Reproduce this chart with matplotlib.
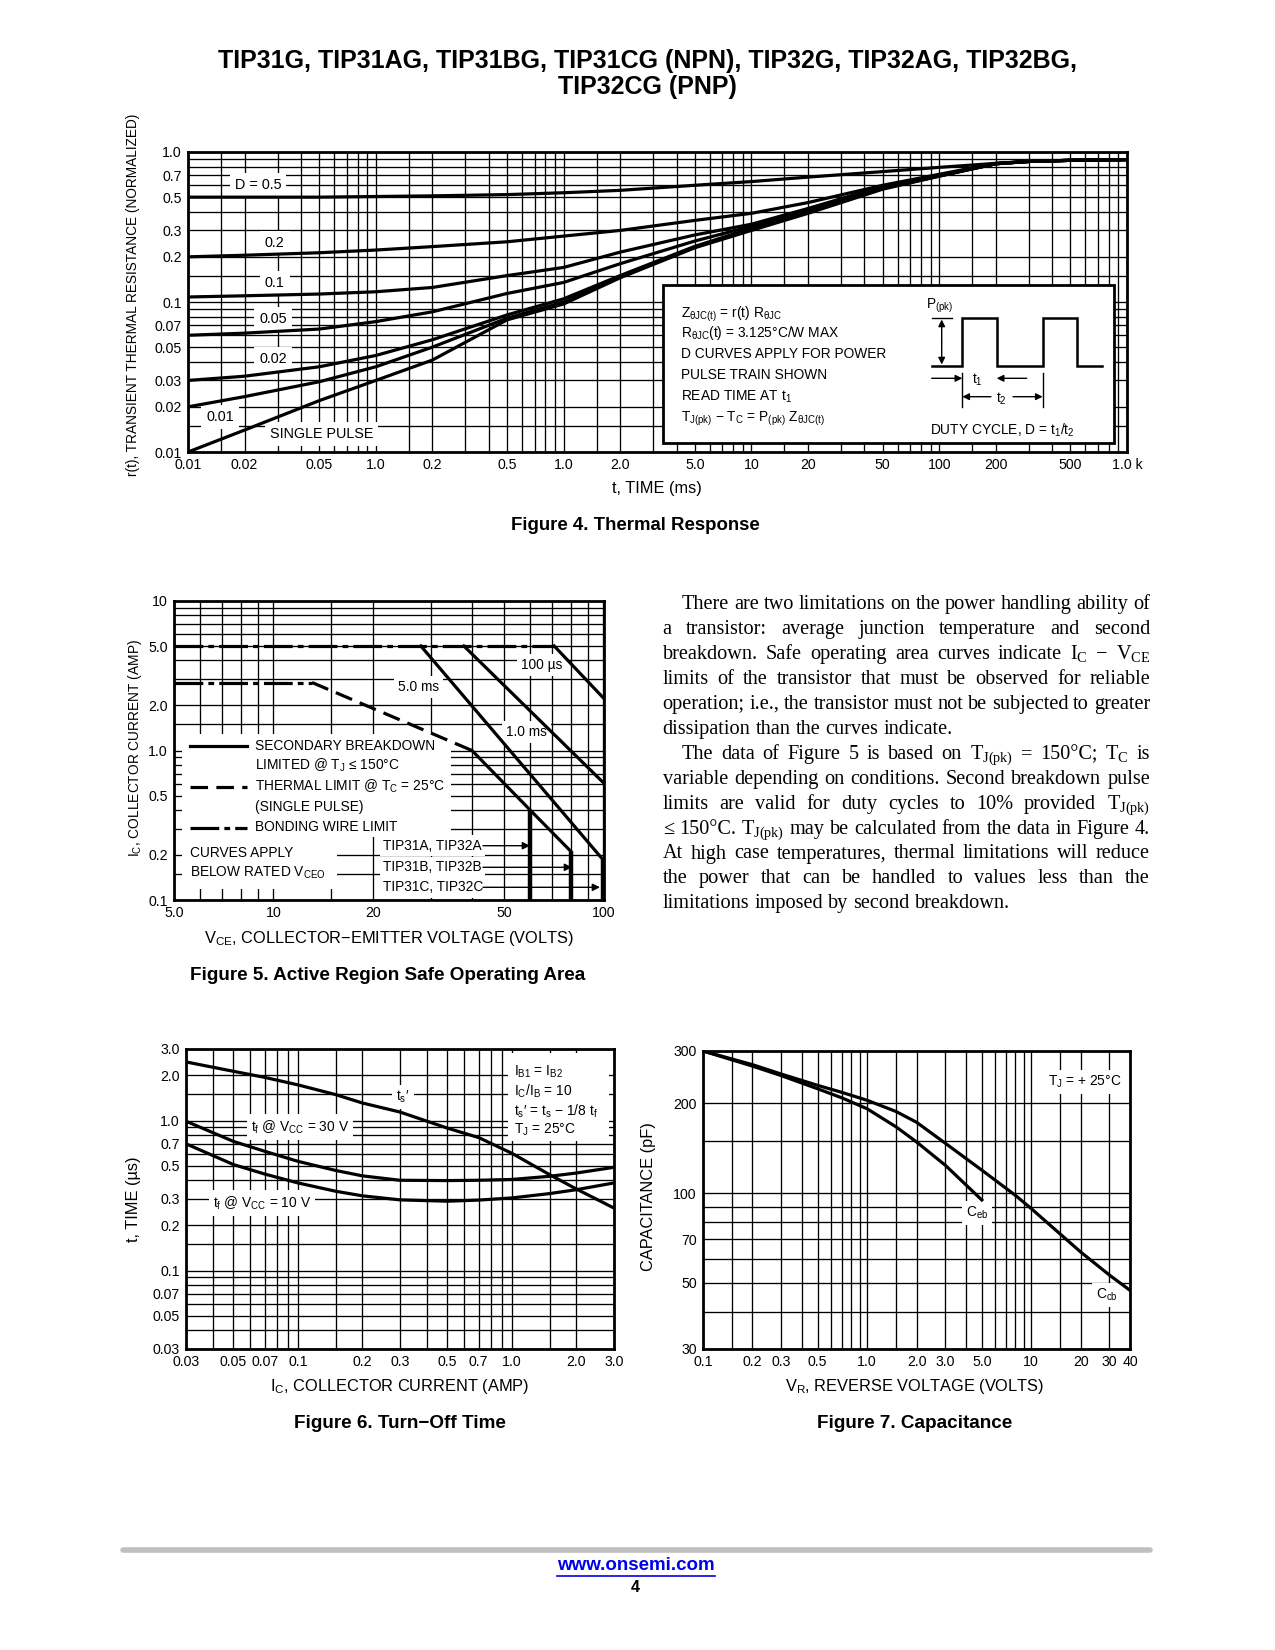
import numpy as np
import matplotlib
matplotlib.use('Agg')
import matplotlib.pyplot as plt
from matplotlib import font_manager as fm
from matplotlib.transforms import Affine2D
from matplotlib.patches import Rectangle
from matplotlib.lines import Line2D
from matplotlib.ticker import NullLocator, NullFormatter

_names = {f.name for f in fm.fontManager.ttflist}
NARROW = 'Liberation Sans Narrow' if 'Liberation Sans Narrow' in _names else 'Liberation Sans'
SANS = [NARROW, 'DejaVu Sans']
SERIF = ['Liberation Serif', 'DejaVu Serif']
plt.rcParams['font.family'] = SANS
plt.rcParams['mathtext.default'] = 'regular'

# ---------------- Figure 4: thermal response ----------------
t_ms = [0.01, 0.02, 0.05, 0.1, 0.2, 0.5, 1, 2, 5, 10, 20, 50, 100, 200, 300, 500, 1000]
r_d05 = [0.50, 0.50, 0.50, 0.505, 0.51, 0.52, 0.535, 0.555, 0.60, 0.635, 0.68, 0.74, 0.79, 0.84, 0.865, 0.88, 0.89]
r_d02 = [0.20, 0.205, 0.213, 0.222, 0.234, 0.252, 0.275, 0.30, 0.35, 0.39, 0.46, 0.60, 0.71, 0.84, 0.865, 0.88, 0.89]
r_d01 = [0.108, 0.110, 0.113, 0.117, 0.125, 0.15, 0.17, 0.215, 0.28, 0.33, 0.42, 0.59, 0.70, 0.835, 0.865, 0.88, 0.89]
r_d005 = [0.06, 0.062, 0.066, 0.074, 0.086, 0.114, 0.135, 0.18, 0.255, 0.32, 0.41, 0.585, 0.70, 0.835, 0.865, 0.88, 0.89]
r_d002 = [0.03, 0.032, 0.037, 0.044, 0.056, 0.082, 0.105, 0.15, 0.235, 0.31, 0.40, 0.575, 0.695, 0.835, 0.865, 0.88, 0.89]
r_d001 = [0.02, 0.0234, 0.0294, 0.037, 0.05, 0.078, 0.10, 0.147, 0.232, 0.305, 0.395, 0.57, 0.69, 0.835, 0.865, 0.88, 0.89]
r_single = [0.01, 0.014, 0.022, 0.030, 0.041, 0.076, 0.097, 0.145, 0.23, 0.30, 0.39, 0.565, 0.69, 0.835, 0.865, 0.88, 0.89]
f4_xticks = [0.01, 0.02, 0.05, 0.1, 0.2, 0.5, 1, 2, 5, 10, 20, 50, 100, 200, 500, 1000]
f4_xlabels = ['0.01', '0.02', '0.05', '1.0', '0.2', '0.5', '1.0', '2.0', '5.0', '10', '20', '50', '100', '200', '500', '1.0 k']
f4_yticks = [1.0, 0.7, 0.5, 0.3, 0.2, 0.1, 0.07, 0.05, 0.03, 0.02, 0.01]
f4_ylabels = ['1.0', '0.7', '0.5', '0.3', '0.2', '0.1', '0.07', '0.05', '0.03', '0.02', '0.01']

# ---------------- Figure 5: safe operating area ----------------
bond_v = [5.0, 71.0]
bond_i = [5.0, 5.0]
bond_low_v = [5.0, 13.1]
bond_low_i = [2.85, 2.85]
therm_v = [13.1, 40.0]
therm_i = [2.85, 1.0]
dc_v = [40.0, 60.0, 80.0]
dc_i = [1.0, 0.40, 0.21]
ms5_v = [28.0, 100.0]
ms5_i = [5.0, 0.185]
ms1_v = [37.8, 100.0]
ms1_i = [5.0, 0.61]
us100_v = [71.0, 100.0]
us100_i = [5.0, 2.25]
vceo_v = [60.0, 80.0, 100.0]
vceo_top = [0.40, 0.21, 0.185]
f5_xticks = [5, 10, 20, 50, 100]
f5_xlabels = ['5.0', '10', '20', '50', '100']
f5_yticks = [10, 5, 2, 1, 0.5, 0.2, 0.1]
f5_ylabels = ['10', '5.0', '2.0', '1.0', '0.5', '0.2', '0.1']

# ---------------- Figure 6: turn-off time ----------------
ic_amp = [0.03, 0.05, 0.07, 0.1, 0.15, 0.2, 0.3, 0.5, 0.7, 1.0, 1.5, 2.0, 3.0]
ts_prime = [2.46, 2.13, 1.94, 1.73, 1.49, 1.31, 1.14, 0.89, 0.77, 0.605, 0.436, 0.35, 0.261]
tf_30v = [0.99, 0.726, 0.624, 0.535, 0.465, 0.428, 0.40, 0.398, 0.40, 0.405, 0.425, 0.447, 0.488]
tf_10v = [0.70, 0.509, 0.44, 0.384, 0.338, 0.315, 0.296, 0.29, 0.295, 0.305, 0.326, 0.346, 0.384]
f6_xticks = [0.03, 0.05, 0.07, 0.1, 0.2, 0.3, 0.5, 0.7, 1.0, 2.0, 3.0]
f6_xlabels = ['0.03', '0.05', '0.07', '0.1', '0.2', '0.3', '0.5', '0.7', '1.0', '2.0', '3.0']
f6_yticks = [3.0, 2.0, 1.0, 0.7, 0.5, 0.3, 0.2, 0.1, 0.07, 0.05, 0.03]
f6_ylabels = ['3.0', '2.0', '1.0', '0.7', '0.5', '0.3', '0.2', '0.1', '0.07', '0.05', '0.03']

# ---------------- Figure 7: capacitance ----------------
vr_cb = [0.1, 0.2, 0.3, 0.5, 0.7, 1.0, 1.5, 2.0, 3.0, 5.0, 8.0, 10, 20, 30, 40]
c_cb = [300, 270, 251, 230, 218, 205, 188, 173, 147, 119.5, 98.4, 88.8, 63.5, 53.1, 47.2]
vr_eb = [0.1, 0.2, 0.3, 0.5, 0.7, 1.0, 1.5, 2.0, 3.0, 5.0]
c_eb = [300, 267, 248, 224, 209, 192, 167, 148.6, 124, 94.9]
f7_xticks = [0.1, 0.2, 0.3, 0.5, 1.0, 2.0, 3.0, 5.0, 10, 20, 30, 40]
f7_xlabels = ['0.1', '0.2', '0.3', '0.5', '1.0', '2.0', '3.0', '5.0', '10', '20', '30', '40']
f7_yticks = [300, 200, 100, 70, 50, 30]
f7_ylabels = ['300', '200', '100', '70', '50', '30']

para_lines = [
    (True, True, "There are two limitations on the power handling ability of"),
    (False, True, "a transistor: average junction temperature and second"),
    (False, True, "breakdown. Safe operating area curves indicate I$_C$ \u2212 V$_{CE}$"),
    (False, True, "limits of the transistor that must be observed for reliable"),
    (False, True, "operation; i.e., the transistor must not be subjected to greater"),
    (False, False, "dissipation than the curves indicate."),
    (True, True, "The data of Figure 5 is based on T$_{J(pk)}$ = 150\u00b0C; T$_C$ is"),
    (False, True, "variable depending on conditions. Second breakdown pulse"),
    (False, True, "limits are valid for duty cycles to 10% provided T$_{J(pk)}$"),
    (False, True, "\u2264 150\u00b0C. T$_{J(pk)}$ may be calculated from the data in Figure 4."),
    (False, True, "At high case temperatures, thermal limitations will reduce"),
    (False, True, "the power that can be handled to values less than the"),
    (False, False, "limitations imposed by second breakdown."),
]

# ---------------- layout helpers ----------------
W, H = 1275, 1650
fig = plt.figure(figsize=(W / 100, H / 100), dpi=100)
fig.patch.set_facecolor('white')
PIX = Affine2D().scale(1.0 / W, -1.0 / H).translate(0, 1) + fig.transFigure
renderer = fig.canvas.get_renderer()


def _width(s, size, **kw):
    t = fig.text(0, 0, s, fontsize=size, family=SANS, **kw)
    w = t.get_window_extent(renderer=renderer).width
    t.remove()
    return w


# font sizes adjusted so text widths match the condensed face of the original
ANN = 11.5 * 180.0 / _width('SECONDARY BREAKDOWN', 11.5)
TICK = 10.0 * 27.5 / _width('0.05', 10.0)

MULTS = [1, 1.5, 2, 3, 4, 5, 6, 7, 8, 9]
GRID_LW = 0.95
CURVE_LW = 2.3


def make_ax(x0, y0, x1, y1):
    return fig.add_axes([x0 / W, 1 - y1 / H, (x1 - x0) / W, (y1 - y0) / H])


def grid_vals(lo, hi):
    out = []
    for e in range(int(np.floor(np.log10(lo))) - 1, int(np.ceil(np.log10(hi))) + 1):
        for m in MULTS:
            v = m * 10.0 ** e
            if lo * 0.999 <= v <= hi * 1.001:
                out.append(v)
    return out


def setup(ax, xlim, ylim, xt, xl, yt, yl):
    ax.set_xscale('log')
    ax.set_yscale('log')
    ax.set_xlim(*xlim)
    ax.set_ylim(*ylim)
    for v in grid_vals(*xlim):
        ax.axvline(v, color='k', lw=GRID_LW, zorder=1)
    for v in grid_vals(*ylim):
        ax.axhline(v, color='k', lw=GRID_LW, zorder=1)
    ax.set_xticks(xt)
    ax.set_xticklabels(xl)
    ax.set_yticks(yt)
    ax.set_yticklabels(yl)
    for a in (ax.xaxis, ax.yaxis):
        a.set_minor_locator(NullLocator())
        a.set_minor_formatter(NullFormatter())
    ax.tick_params(length=0, pad=4.5, labelsize=TICK)
    for s in ax.spines.values():
        s.set_linewidth(2.0)
        s.set_zorder(5)
    ax.set_facecolor('white')


def ptext(x, y, s, size=None, ha='left', va='center', target=None, **kw):
    tgt = target if target is not None else fig
    kw.setdefault('family', SANS)
    return tgt.text(x, y, s, transform=PIX, fontsize=size if size else ANN, ha=ha, va=va, **kw)


def fit(t, target, rotated=False):
    bb = t.get_window_extent(renderer=renderer)
    cur = bb.height if rotated else bb.width
    if cur > 0:
        t.set_fontsize(t.get_fontsize() * target / cur)


def pline(xs, ys, target=None, **kw):
    kw.setdefault('color', 'k')
    ln = Line2D(xs, ys, transform=PIX, **kw)
    ln.set_clip_on(False)
    if target is None:
        fig.add_artist(ln)
    else:
        target.add_line(ln)
    return ln


def parrow(x0, y0, x1, y1, target, style='-|>', ms=11, lw=1.0, z=7):
    target.annotate('', xy=(x1, y1), xytext=(x0, y0), xycoords=PIX, textcoords=PIX,
                    arrowprops=dict(arrowstyle=style, color='k', lw=lw, mutation_scale=ms,
                                    shrinkA=0, shrinkB=0), zorder=z, annotation_clip=False)


WHITE = dict(facecolor='white', edgecolor='none', pad=2.5)

# ---------------- title ----------------
t1 = ptext(647, 61, 'TIP31G, TIP31AG, TIP31BG, TIP31CG (NPN), TIP32G, TIP32AG, TIP32BG,', size=20,
           ha='center', weight='bold')
fit(t1, 862)
t2 = ptext(647, 87, 'TIP32CG (PNP)', size=t1.get_fontsize(), ha='center', weight='bold')

# ---------------- Figure 4 ----------------
ax4 = make_ax(188, 152, 1127, 452)
setup(ax4, (0.01, 1000), (0.01, 1.0), f4_xticks, f4_xlabels, f4_yticks, f4_ylabels)
for r in (r_d05, r_d02, r_d01, r_d005, r_d002, r_d001, r_single):
    ax4.plot(t_ms, r, color='k', lw=CURVE_LW, zorder=3, solid_capstyle='round')
for (xv, yv, s) in [(0.0236, 0.60, 'D = 0.5'), (0.029, 0.248, '0.2'), (0.029, 0.134, '0.1'),
                    (0.0284, 0.077, '0.05'), (0.0284, 0.0417, '0.02'), (0.0148, 0.0172, '0.01'),
                    (0.0515, 0.0132, 'SINGLE PULSE')]:
    ax4.text(xv, yv, s, ha='center', va='center', fontsize=ANN * 1.05, zorder=2,
             bbox=dict(facecolor='white', edgecolor='none', pad=3.5))

box = Rectangle((663, 285), 451, 158, transform=PIX, facecolor='white', edgecolor='k', lw=2.0,
                zorder=6, clip_on=False)
ax4.add_patch(box)
box_lines = [
    (314.6, r'Z$_{\theta JC(t)}$ = r(t) R$_{\theta JC}$'),
    (333.5, r'R$_{\theta JC}$(t) = 3.125$\degree$C/W MAX'),
    (354.5, 'D CURVES APPLY FOR POWER'),
    (374.6, 'PULSE TRAIN SHOWN'),
    (396.6, 'READ TIME AT t$_1$'),
    (418.7, 'T$_{J(pk)}$ \u2212 T$_C$ = P$_{(pk)}$ Z$_{\\theta JC(t)}$'),
]
for (yy, s) in box_lines:
    ptext(681, yy, s, target=ax4, zorder=7)
pline([931.7, 962.3, 962.3, 996.7, 996.7, 1042.7, 1042.7, 1076.7, 1076.7, 1101.7],
      [365.7, 365.7, 318.3, 318.3, 365.7, 365.7, 318.3, 318.3, 365.7, 365.7],
      target=ax4, lw=1.8, zorder=7, solid_joinstyle='miter')
pline([931.7, 952], [318.3, 318.3], target=ax4, lw=1.0, zorder=7)
parrow(941.7, 342, 941.7, 319.5, ax4, ms=10)
parrow(941.7, 342, 941.7, 364.5, ax4, ms=10)
ptext(940, 306, 'P$_{(pk)}$', ha='center', target=ax4, zorder=7)
parrow(931.7, 378.3, 962.3, 378.3, ax4, ms=10)
parrow(1026.7, 378.3, 996.7, 378.3, ax4, ms=10)
ptext(977, 380, 't$_1$', ha='center', target=ax4, zorder=7)
pline([962.3, 962.3], [373, 407], target=ax4, lw=1.0, zorder=7)
pline([1042.7, 1042.7], [373, 407], target=ax4, lw=1.0, zorder=7)
parrow(991, 396.7, 962.3, 396.7, ax4, ms=10)
parrow(1013, 396.7, 1042.7, 396.7, ax4, ms=10)
ptext(1001.7, 398.5, 't$_2$', ha='center', target=ax4, zorder=7)
ptext(930, 430, 'DUTY CYCLE, D = t$_1$/t$_2$', target=ax4, zorder=7)

yl4 = ptext(133, 295, 'r(t), TRANSIENT THERMAL RESISTANCE (NORMALIZED)', ha='center',
            rotation=90)
fit(yl4, 362, rotated=True)
xl4 = ptext(657, 489, 't, TIME (ms)', ha='center')
cap4 = ptext(635.5, 526, 'Figure 4. Thermal Response', size=13, ha='center', weight='bold')
fit(cap4, 250)

# ---------------- Figure 5 ----------------
ax5 = make_ax(174, 601, 604, 900)
setup(ax5, (5, 100.5), (0.1, 10), f5_xticks, f5_xlabels, f5_yticks, f5_ylabels)
BOND = (0, (9, 1.6, 1.8, 1.6))
DASH = (0, (5.5, 2.6))
ax5.plot(bond_v, bond_i, color='k', lw=CURVE_LW, ls=BOND, zorder=3)
ax5.plot(bond_low_v, bond_low_i, color='k', lw=CURVE_LW, ls=BOND, zorder=3)
ax5.plot(therm_v, therm_i, color='k', lw=CURVE_LW, ls=DASH, zorder=3)
ax5.plot(dc_v, dc_i, color='k', lw=CURVE_LW, zorder=3)
ax5.plot(ms5_v, ms5_i, color='k', lw=CURVE_LW, zorder=3)
ax5.plot(ms1_v, ms1_i, color='k', lw=CURVE_LW, zorder=3)
ax5.plot(us100_v, us100_i, color='k', lw=CURVE_LW, zorder=3)
for v, top in zip(vceo_v, vceo_top):
    ax5.plot([v, v], [top, 0.1], color='k', lw=3.2, zorder=3, solid_capstyle='butt')
ax5.add_patch(Rectangle((182, 734), 269, 103, transform=PIX, facecolor='white', edgecolor='none',
                        zorder=2, clip_on=False))
ax5.add_patch(Rectangle((182, 836), 155, 53, transform=PIX, facecolor='white', edgecolor='none',
                        zorder=2, clip_on=False))
pline([190, 247], [745.7, 745.7], target=ax5, lw=CURVE_LW, zorder=4)
pline([190, 247], [786.7, 786.7], target=ax5, lw=CURVE_LW, ls=DASH, zorder=4)
pline([190, 247], [828.3, 828.3], target=ax5, lw=CURVE_LW, ls=BOND, zorder=4)
for (yy, s) in [(745.7, 'SECONDARY BREAKDOWN'), (765.7, 'LIMITED @ T$_J$ \u2264 150\u00b0C'),
                (786.7, 'THERMAL LIMIT @ T$_C$ = 25\u00b0C'), (806.7, '(SINGLE PULSE)'),
                (826.7, 'BONDING WIRE LIMIT')]:
    ptext(255, yy, s, target=ax5, zorder=4)
ptext(190, 852.7, 'CURVES APPLY', target=ax5, zorder=4)
ptext(190, 873.3, 'BELOW RATED V$_{CEO}$', target=ax5, zorder=4)
for (yy, s, xe) in [(845.7, 'TIP31A, TIP32A', 530), (867.3, 'TIP31B, TIP32B', 572),
                    (887.3, 'TIP31C, TIP32C', 600)]:
    ptext(383, yy, s, target=ax5, zorder=4, bbox=WHITE)
    parrow(483, yy, xe, yy, ax5, ms=11, lw=1.0, z=4)
for (xx, yy, s) in [(418.3, 686.7, '5.0 ms'), (526.7, 731.7, '1.0 ms'), (541.7, 665, '100 \u00b5s')]:
    ptext(xx, yy, s, ha='center', target=ax5, zorder=2,
          bbox=dict(facecolor='white', edgecolor='none', pad=3))
yl5 = ptext(134.6, 748.5, 'I$_C$, COLLECTOR CURRENT (AMP)', ha='center', rotation=90)
fit(yl5, 218, rotated=True)
xl5 = ptext(389, 938, 'V$_{CE}$, COLLECTOR\u2212EMITTER VOLTAGE (VOLTS)', ha='center')
fit(xl5, 372)
cap5 = ptext(388, 976, 'Figure 5. Active Region Safe Operating Area', size=13, ha='center',
             weight='bold')
fit(cap5, 393)

# ---------------- paragraph ----------------
PSIZE = 14.6
PX0, PX1, INDENT = 662.7, 1150.0, 19.0
PY0, PDY = 609.3, 24.92
sp_a = fig.text(0, 0, 'a a', fontsize=PSIZE, family=SERIF)
sp_b = fig.text(0, 0, 'aa', fontsize=PSIZE, family=SERIF)
space_w = (sp_a.get_window_extent(renderer=renderer).width
           - sp_b.get_window_extent(renderer=renderer).width)
sp_a.remove()
sp_b.remove()
for i, (indent, justify, line) in enumerate(para_lines):
    y = PY0 + i * PDY
    words = line.split(' ')
    objs = [fig.text(0, 0, w, transform=PIX, fontsize=PSIZE, family=SERIF, math_fontfamily='stix',
                     va='baseline', ha='left') for w in words]
    ws = [o.get_window_extent(renderer=renderer).width for o in objs]
    x0 = PX0 + (INDENT if indent else 0)
    gap = (PX1 - x0 - sum(ws)) / (len(words) - 1) if (justify and len(words) > 1) else space_w
    x = x0
    for o, w in zip(objs, ws):
        o.set_position((x, y))
        x += w + gap

# ---------------- Figure 6 ----------------
ax6 = make_ax(186, 1049, 614, 1349)
setup(ax6, (0.03, 3.0), (0.03, 3.0), f6_xticks, f6_xlabels, f6_yticks, f6_ylabels)
for yv in (ts_prime, tf_30v, tf_10v):
    ax6.plot(ic_amp, yv, color='k', lw=CURVE_LW, zorder=3)
ptext(403, 1097, "t$_s$\u2032", ha='center', target=ax6, zorder=2,
      bbox=dict(facecolor='white', edgecolor='none', pad=3))
ptext(300, 1127, 't$_f$ @ V$_{CC}$ = 30 V', ha='center', target=ax6, zorder=2,
      bbox=dict(facecolor='white', edgecolor='none', pad=3))
ptext(262, 1203, 't$_f$ @ V$_{CC}$ = 10 V', ha='center', target=ax6, zorder=2,
      bbox=dict(facecolor='white', edgecolor='none', pad=3))
ax6.add_patch(Rectangle((508, 1053), 101, 88, transform=PIX, facecolor='white', edgecolor='none',
                        zorder=2, clip_on=False))
for (yy, s) in [(1072, 'I$_{B1}$ = I$_{B2}$'), (1091, 'I$_C$/I$_B$ = 10'),
                (1111, 't$_s$\u2032 = t$_s$ \u2212 1/8 t$_f$'), (1130, 'T$_J$ = 25\u00b0C')]:
    ptext(514, yy, s, target=ax6, zorder=4)
yl6 = ptext(133.6, 1199.5, 't, TIME (\u00b5s)', ha='center', rotation=90)
xl6 = ptext(400, 1386.6, 'I$_C$, COLLECTOR CURRENT (AMP)', ha='center')
cap6 = ptext(400, 1423, 'Figure 6. Turn\u2212Off Time', size=13, ha='center', weight='bold')

# ---------------- Figure 7 ----------------
ax7 = make_ax(703, 1051, 1130, 1349)
setup(ax7, (0.1, 40), (30, 300), f7_xticks, f7_xlabels, f7_yticks, f7_ylabels)
ax7.plot(vr_cb, c_cb, color='k', lw=CURVE_LW, zorder=3)
ax7.plot(vr_eb, c_eb, color='k', lw=CURVE_LW, zorder=3)
ptext(977, 1213, 'C$_{eb}$', ha='center', target=ax7, zorder=2,
      bbox=dict(facecolor='white', edgecolor='none', pad=3))
ptext(1107, 1295, 'C$_{cb}$', ha='center', target=ax7, zorder=2,
      bbox=dict(facecolor='white', edgecolor='none', pad=3))
ptext(1085, 1082, 'T$_J$ = + 25\u00b0C', ha='center', target=ax7, zorder=2,
      bbox=dict(facecolor='white', edgecolor='none', pad=3))
yl7 = ptext(648, 1197, 'CAPACITANCE (pF)', ha='center', rotation=90)
xl7 = ptext(915, 1386.6, 'V$_R$, REVERSE VOLTAGE (VOLTS)', ha='center')
cap7 = ptext(915, 1423, 'Figure 7. Capacitance', size=13, ha='center', weight='bold')
for t in (xl6, xl7, yl6, yl7, xl4):
    t.set_fontsize(xl5.get_fontsize())
for t in (cap6, cap7):
    t.set_fontsize(cap5.get_fontsize())

# ---------------- footer ----------------
pline([123, 1150], [1549.5, 1549.5], lw=4.0, color='#c0c0c0', solid_capstyle='round')
lk = ptext(636, 1566, 'www.onsemi.com', size=12.5, ha='center', weight='bold', color='#0000ee')
fit(lk, 158)
pline([557, 715], [1575.5, 1575.5], lw=1.2, color='#0000ee')
ptext(635, 1587.5, '4', size=11.5, ha='center', weight='bold')

fig.savefig('out.png', dpi=100, facecolor='white')
